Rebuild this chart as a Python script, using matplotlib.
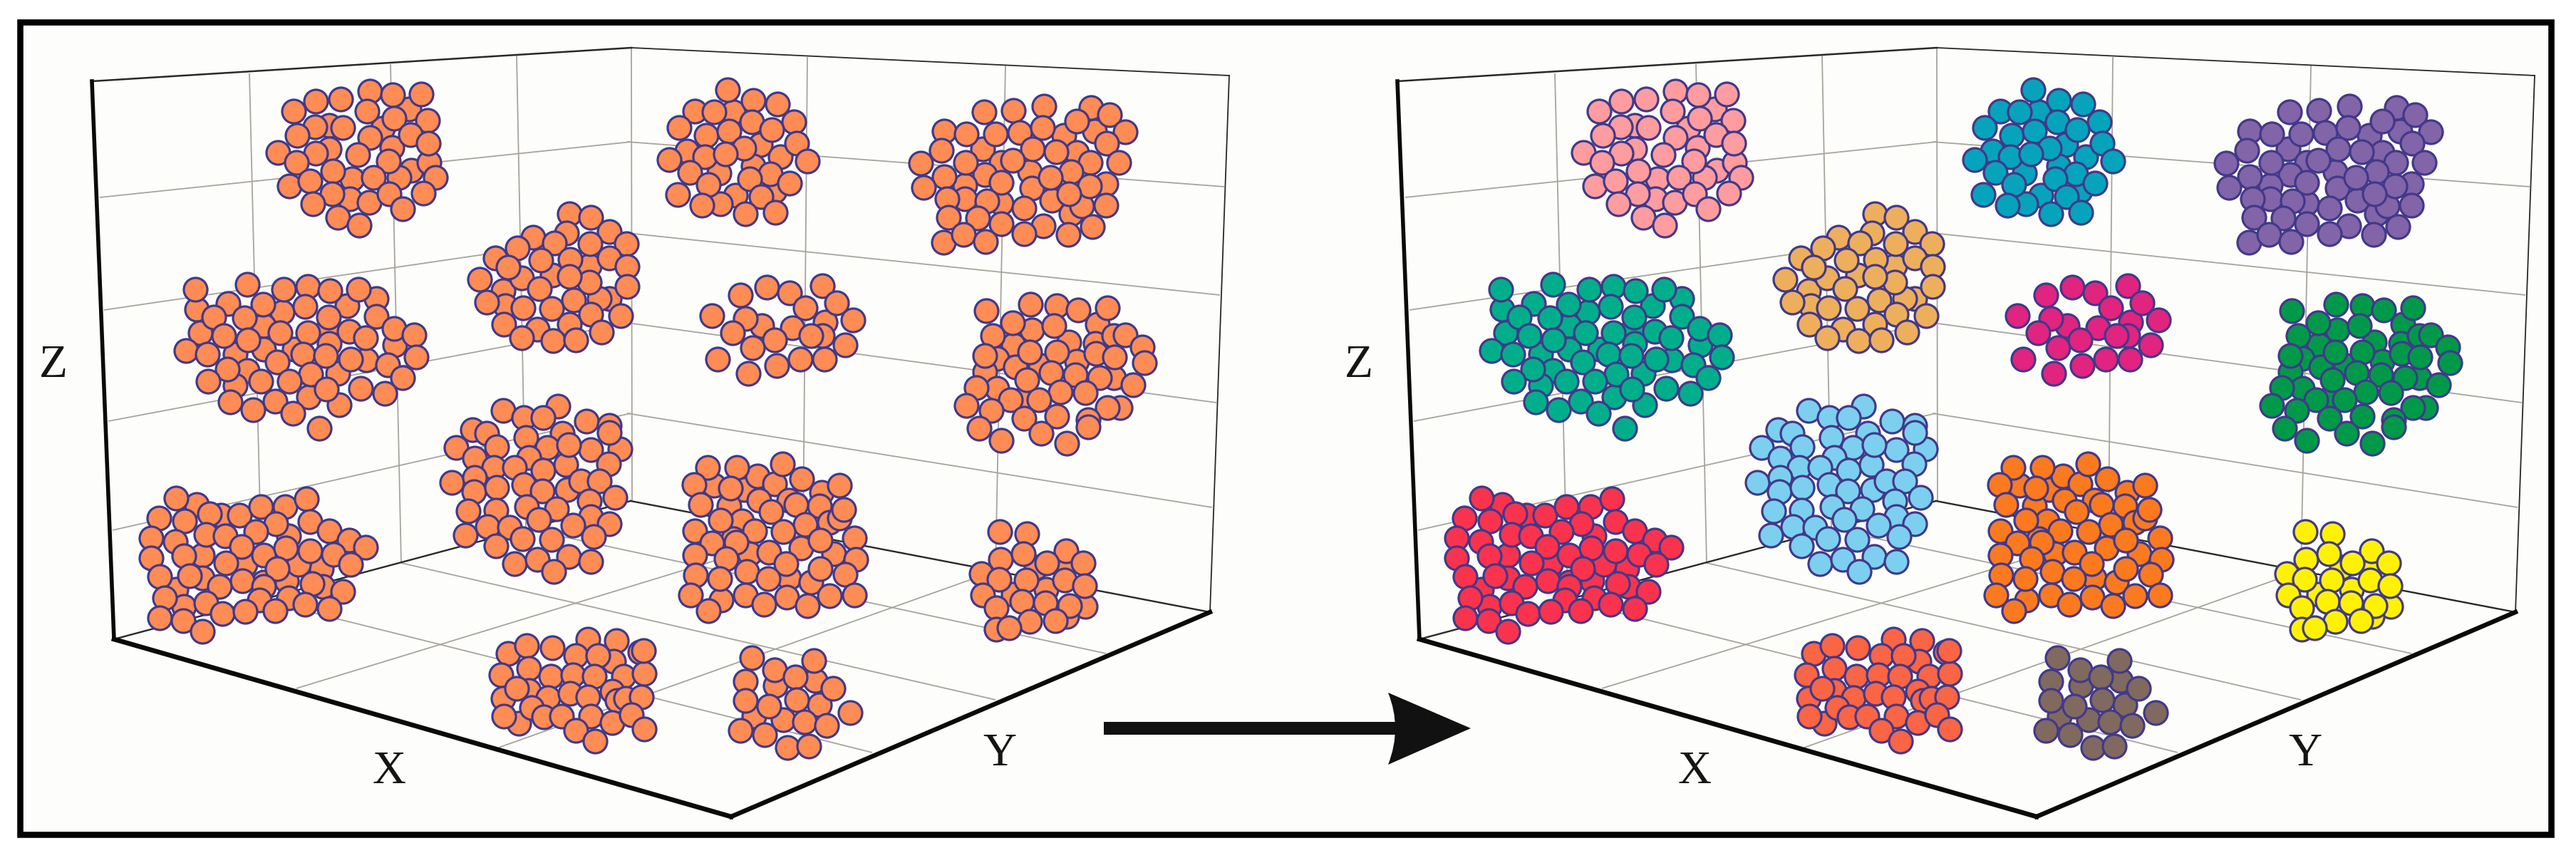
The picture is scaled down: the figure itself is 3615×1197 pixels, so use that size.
import numpy as np
import matplotlib
matplotlib.use("Agg")
import matplotlib.pyplot as plt
from matplotlib.patches import PathPatch, Rectangle
from matplotlib.path import Path

CROP_A = (0, 0)      # upper left
CROP_B = (880, 0)    # upper right
CROP_C = (0, 597)    # lower left
CROP_D = (880, 597)  # lower right
SX, SY = 1568 / 900, 1568 / 600

c01 = [(1000,400),(805,460),(935,470),(805,545),(958,540),(1005,625),(975,650),(860,655),(855,730),(1048,595),
       (718,408),(772,372),(833,362),(905,335),(960,348),(1030,345),(898,408),(963,435),(1045,442),(770,465),
       (838,467),(727,497),(1003,495),(905,505),(1047,525),(680,560),(772,562),(875,566),(725,597),(950,590),
       (813,627),(913,650),(1065,650),(707,682),(757,663),(812,710),(903,743),(952,710),(1035,707),(765,747),
       (984,767),(825,798),(878,825)]
c02 = [(480,1135),(690,1145),(848,1120),(920,1095),(490,1220),(645,1195),(800,1210),(645,1280),(965,1265),(575,1300),
       (805,1260),(720,1280),(895,1320),(605,1360),(825,1370),(575,1415),(755,1455),(830,1485),
       (477,1062),(605,1042),(693,1060),(752,1050),(806,1065),(876,1062),(558,1113),(643,1115),(745,1125),(522,1163),
       (597,1165),(803,1162),(920,1160),(547,1232),(685,1220),(752,1220),(853,1215),(963,1205),(1012,1228),(607,1247),
       (893,1240),(455,1285),(507,1298),(740,1300),(797,1305),(1017,1310),(678,1328),(858,1316),(948,1337),(555,1355),
       (985,1385),(760,1372),(508,1398),(638,1398),(708,1398),(882,1423),(798,1428),(940,1443),(563,1475),(673,1472),
       (618,1503),(716,1515),(780,1570)]
c03 = [(1210,945),(1440,975),(1490,1095),(1465,1095),(1230,1065),(1235,1120),(1350,1010),(1275,1020),
       (1392,785),(1445,798),(1385,855),(1490,850),(1303,870),(1355,890),(1443,893),(1532,893),(1265,910),(1322,955),
       (1393,950),(1490,945),(1533,977),(1242,980),(1172,1025),(1440,1035),(1392,1015),(1318,1058),(1533,1050),(1190,1107),
       (1403,1100),(1348,1132),(1278,1130),(1517,1158),(1445,1153),(1232,1188),(1313,1207),(1392,1190),(1470,1217),(1275,1240),
       (1352,1250),(1408,1247)]
c04 = [(1365,-70),(1230,-55),(1280,-30),(1328,-30),(1433,-15),(1490,0),(1155,15),
       (1115,82),(1160,120),(1190,30),(1215,78),(1285,45),(1375,30),(1338,80),(1445,88),(1515,85),(1490,25),(1292,118),
       (1207,155),(1258,155),(1327,165),(1383,143),(1488,140),(1390,70),(1105,208),(1160,190),(1158,243),(1215,228),
       (1280,218),(1325,240),(1387,235),(1420,205),(1465,205),(1503,265),(1440,278),(1145,313),(1212,310),(1287,298),
       (1360,305),(1317,345),(1445,335),(1490,360),(1400,367),(1137,402),(1192,372),(1245,375),(1452,408),(1212,442),
       (1277,415),(1348,417),(1390,480),(1258,507),(1313,492),(1445,498),(1353,535)]
c05 = [(480,290),(540,330),(430,600),(450,665),(705,405),(495,475),(495,560),(600,510),(700,570),(785,525),(790,590),
       (730,510),(645,575),(430,267),(513,325),(585,328),(637,297),(697,297),(750,270),(388,340),(452,350),(757,353),
       (675,360),(625,390),(805,388),(853,420),(893,447),(370,412),(428,425),(503,400),(550,405),(590,445),(757,460),
       (645,475),(698,450),(815,472),(370,487),(450,477),(553,505),(857,510),(678,525),(390,555),(463,552),(593,570),
       (537,590),(645,590),(763,580),(838,610),(402,632),(635,640),(705,632),(503,650),(745,655),(805,672),(390,705),
       (447,715),(543,690),(600,682),(673,680),(495,755)]
c06 = [(260,410),(325,530),(375,575),(225,635),(308,610),(265,715),(360,700),(228,747),
       (246,330),(308,368),(368,382),(165,408),(212,410),(408,447),(127,468),(305,448),(353,475),(193,497),(249,480),
       (414,525),(285,543),(147,553),(103,585),(190,575),(240,565),(440,590),(153,632),(350,638),(300,657),(198,678),
       (398,672),(124,713),(327,720),(183,753),(290,785),(363,780)]
c07 = [(870,545),(1068,497),(1143,480),(1100,560),(915,595),(875,640),(825,680),(985,630),(990,690),(1170,675),
       (1038,735),(825,730),(915,745),(1085,785),(1112,755),
       (872,410),(945,405),(1020,390),(1135,395),(1180,420),(1100,443),(1217,483),(775,480),(830,492),(900,490),
       (960,487),(1015,467),(1172,525),(768,552),(992,545),(1048,557),(717,598),(828,595),(943,587),(1132,595),
       (1203,597),(1085,630),(775,648),(1035,652),(915,670),(1130,682),(725,687),(1080,710),(783,730),(880,738),
       (970,762),(1170,752),(785,797),(858,800),(915,820),(1137,830),(1018,828),(970,858),(1078,860),(773,888),
       (822,860),(877,885)]
c08 = [(485,1180),(478,1230),(330,1195),(342,1053),(398,1075),(477,1048),(277,1083),(513,1110),(436,1130),(207,1157),
       (290,1167),(552,1173),(257,1220),(405,1203),(360,1247),(450,1230),(306,1275),(533,1265),(222,1317),(423,1318),
       (482,1318),(365,1340),(296,1370)]
c09 = [(1080,1255),(1150,1190),(1145,1260),(945,1265),(990,1210),(905,1315),(950,1345),(875,1365),(1010,1340),(1100,1325),
       (905,1425),(965,1465),(1190,1385),(1205,1495),
       (878,1140),(986,1117),(1050,1122),(1103,1137),(1175,1130),(942,1183),(1043,1195),(893,1230),(1190,1230),(1218,1227),
       (1260,1272),(985,1290),(1050,1290),(1147,1297),(875,1305),(1192,1310),(1265,1330),(1037,1367),(1095,1375),(1155,1385),
       (977,1393),(853,1422),(1237,1412),(1060,1438),(1120,1440),(937,1465),(1007,1465),(830,1487),(890,1505),(1175,1495),
       (1050,1525),(970,1535),(1127,1540),(860,1570),(915,1615),(1013,1590),(1075,1625),(1128,1565)]
c10 = [(213,220),(285,235),(318,185),(360,215),(475,245),(250,295),(322,275),(395,275),(280,350),(470,295),(495,355),
       (260,415),(300,470),(425,450),(505,470),(395,560),(450,575),(230,640),(520,340),
       (196,153),(268,153),(380,140),(427,197),(520,220),(163,217),(252,230),(180,290),(413,290),(530,308),(352,317),
       (228,348),(435,362),(165,387),(312,388),(382,390),(472,420),(556,413),(207,432),(267,428),(165,475),(347,465),
       (243,488),(560,490),(389,507),(473,525),(168,550),(227,563),(292,537),(345,563),(533,545),(155,622),(290,622),
       (390,630),(495,625),(556,622),(335,655),(441,660),(198,680)]
c11 = [(1000,520),(1070,520),(945,620),(1025,600),(1120,665),(1075,700),
       (912,390),(977,397),(1073,460),(913,490),(968,470),(1115,505),(1027,505),(866,543),(910,565),(976,567),(1070,567),
       (1118,587),(870,622),(965,645),(1022,650),(1082,660),(903,670),(985,718),(1047,715),(903,748),(933,743)]
c12 = [(1243,837),(1288,807),(1350,815),(1437,785),(1507,790),(1408,845),(1500,865),(1462,845),(1565,830),(1225,915),
       (1293,890),(1347,920),(1400,915),(1453,920),(1525,920),(1575,910),(1230,1000),(1293,972),(1263,965),(1340,997),
       (1393,982),(1437,995),(1497,975),(1508,1010),(1530,1000),(1568,995),(1268,1092),(1232,1067),(1300,1035),(1330,1068),
       (1372,1065),(1445,1065),(1408,1118),(1497,1090),(1543,1060),(1455,1157),(1575,1113),(1573,825)]
c13 = [(460,935),(362,955),(310,1065),(470,1025),(382,1080),
       (305,853),(457,862),(360,897),(411,922),(290,938),(503,965),(290,1010),(414,1005),(347,1030),(545,1052),(433,1087),
       (487,1100),(277,1118),(337,1135),(392,1182),(445,1177)]

clusters = [(c01, CROP_A), (c02, CROP_A), (c03, CROP_A), (c04, CROP_C), (c05, CROP_C), (c06, CROP_B), (c07, CROP_B),
            (c08, CROP_B), (c09, CROP_B), (c10, CROP_D), (c11, CROP_D), (c12, CROP_C), (c13, CROP_D)]
right_colors = ['#FE9C9F', '#00AE8C', '#EDAF5C', '#7CCFEF', '#F9334E', '#06A3BC', '#8264A8',
                '#E0247F', '#00994A', '#FB7A20', '#FFF200', '#FA6545', '#80695F']
left_color = '#FF8C55'
edge_color = '#41398A'
axis_labels = ['Z', 'X', 'Y']

# Wire-frame of the box
grid = [((140,277),(886,199)), ((146,435),(885,327)), ((152,591),(885,453)), ((158,744),(885,580)),
        ((880,199),(1718,262)), ((880,327),(1712,414)), ((880,453),(1707,565)), ((880,580),(1701,712)),
        ((350,103),(368,842)), ((548,90),(563,790)), ((725,78),(738,742)),
        ((1133,80),(1127,749)), ((1411,92),(1397,801)), ((886,67),(887,703)),
        ((416,966),(1127,749)), ((700,1049),(1397,801)),
        ((368,842),(1224,1056)), ((563,790),(1397,982)), ((738,742),(1552,917))]
thin_edges = [((886,67),(1725,106),1.3), ((1725,106),(1698,859),1.3), ((129,114),(886,67),1.8),
              ((160,897),(885,703),1.7), ((885,703),(1698,859),1.7)]
thick_edges = [((129,114),(160,897),4.0), ((160,897),(1026,1146),4.8), ((1026,1146),(1698,859),4.6)]
label_pos = [(75,513), (546,1083), (1403,1058)]
PANEL_SHIFT = 1832

fig = plt.figure(figsize=(36.15, 11.97), dpi=100, facecolor='white')
ax = fig.add_axes([0, 0, 1, 1])
ax.set_xlim(0, 3615)
ax.set_ylim(1197, 0)
ax.axis('off')

ax.add_patch(Rectangle((28, 30.5), 3552, 1140, facecolor='#FDFDFB', edgecolor='black', linewidth=6.2, zorder=0))

for k, shift in enumerate((0, PANEL_SHIFT)):
    for a, b in grid:
        ax.plot([a[0]+shift, b[0]+shift], [a[1], b[1]], color='#A8A49C', lw=1.3, zorder=1, solid_capstyle='butt')
    for a, b, lw in thin_edges:
        ax.plot([a[0]+shift, b[0]+shift], [a[1], b[1]], color='#2A2826', lw=lw, zorder=1.5)
    for a, b, lw in thick_edges:
        ax.plot([a[0]+shift, b[0]+shift], [a[1], b[1]], color='#0A0A0A', lw=lw, zorder=1.5, solid_capstyle='projecting')
    for i, (pts, crop) in enumerate(clusters):
        p = np.array(pts, dtype=float)
        xs = crop[0] + p[:, 0] / SX + shift
        ys = crop[1] + p[:, 1] / SY
        ax.scatter(xs, ys, s=566, facecolor=left_color if k == 0 else right_colors[i],
                   edgecolor=edge_color, linewidth=2.3, zorder=2 + i * 0.01)
    for lab, (x, y) in zip(axis_labels, label_pos):
        ax.text(x + shift, y, lab, family='Liberation Serif', fontsize=47, color='#151515',
                ha='center', va='center', zorder=3)

# Arrow between the panels
ax.add_patch(Rectangle((1549, 1013), 415, 18, facecolor='#111111', edgecolor='none', zorder=3))
head = Path([(2064,1022), (1948,972), (1968,1022), (1948,1073), (2064,1022)],
            [Path.MOVETO, Path.LINETO, Path.CURVE3, Path.CURVE3, Path.CLOSEPOLY])
ax.add_patch(PathPatch(head, facecolor='#111111', edgecolor='none', zorder=3))

fig.savefig('out.png', dpi=100, facecolor='white')
